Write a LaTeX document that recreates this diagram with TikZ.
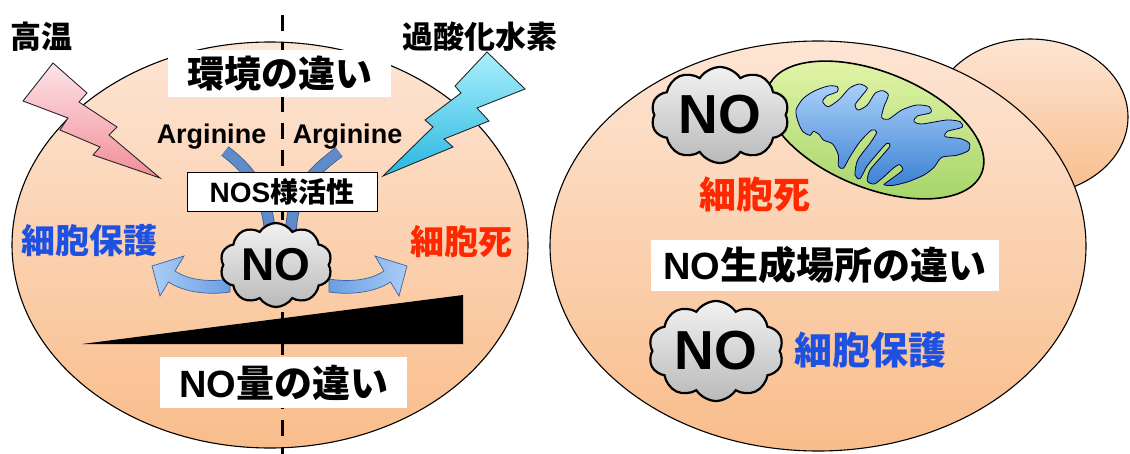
\documentclass[tikz,border=0pt]{standalone}
\usepackage{fontspec}
\setmainfont{Liberation Sans}
\newfontfamily\jp{Noto Sans CJK JP}
\usetikzlibrary{shapes.symbols}
\newcommand{\fsz}[1]{\fontsize{#1}{#1}\selectfont}

\definecolor{cellTop}{RGB}{253,229,212}
\definecolor{cellBot}{RGB}{249,189,139}
\definecolor{txtBlue}{RGB}{30,80,225}
\definecolor{txtRed}{RGB}{255,40,0}
\definecolor{boltPinkT}{RGB}{253,228,231}
\definecolor{boltPinkB}{RGB}{242,140,152}
\definecolor{boltCyanT}{RGB}{170,240,252}
\definecolor{boltCyanB}{RGB}{40,182,224}
\definecolor{arrLight}{RGB}{170,205,245}
\definecolor{arrDark}{RGB}{105,158,226}
\definecolor{arrEdge}{RGB}{60,100,160}
\definecolor{bandFill}{RGB}{95,140,200}
\definecolor{bandEdge}{RGB}{55,90,140}
\definecolor{cloudT}{RGB}{242,242,242}
\definecolor{cloudB}{RGB}{185,185,185}
\definecolor{mitoT}{RGB}{228,246,170}
\definecolor{mitoB}{RGB}{165,212,105}
\definecolor{crisT}{RGB}{170,208,248}
\definecolor{crisB}{RGB}{60,130,212}

\tikzset{
  cell/.style={draw=black, line width=1.1pt, top color=cellTop, bottom color=cellBot},
  bolt/.style={draw=black!85, line width=0.9pt, line join=miter},
  divider/.style={line width=3pt, dash pattern=on 16pt off 11pt},
  band/.style={draw=bandEdge, double=bandFill, double distance=10pt, line width=0.8pt},
  outarrow/.style={draw=arrEdge, line width=0.7pt, line join=miter},
  puff/.style={cloud, cloud puffs=10, cloud puff arc=115, aspect=1.3, draw=black,
    line width=2.2pt, top color=cloudT, bottom color=cloudB, inner sep=0pt},
  notext/.style={font=\bfseries\fsz{#1}},
  jplabel/.style={font=\jp\bfseries\fsz{#1}},
  whitebox/.style={fill=white, inner sep=0pt},
  mito/.style={draw=black, line width=1.6pt, top color=mitoT, bottom color=mitoB},
  cristae/.style={draw=black!75!blue, line width=0.8pt, top color=crisT, bottom color=crisB}
}

\begin{document}
\begin{tikzpicture}[x=1pt,y=-1pt]
\useasboundingbox (0,0) rectangle (1130,453);
\clip (0,0) rectangle (1130,453);

% cells: budding yeast on the right, single cell on the left
\path[cell] (1030,117) ellipse [x radius=98pt, y radius=78pt];
\path[cell] (818,246) ellipse [x radius=268pt, y radius=205pt];
\path[cell] (270,245) ellipse [x radius=258pt, y radius=203pt];

% dividing dashed line
\coordinate (dtop) at (282,15);
\coordinate (dbot) at (282,456);
\draw[divider] (dtop) -- (dbot);

% stress bolts
\path[bolt, top color=boltPinkT, bottom color=boltPinkB]
  (53,63) -- (87,93) -- (79,102) -- (117,127) -- (109,135) -- (160,178)
  -- (93,155) -- (100,147) -- (60,130) -- (68,118) -- (23,101) -- cycle;
\path[bolt, top color=boltCyanT, bottom color=boltCyanB]
  (487,52) -- (525,89) -- (477,108) -- (489,121) -- (444,139) -- (453,147)
  -- (383,176) -- (433,127) -- (425,120) -- (461,93) -- (455,86) -- cycle;

% arginine feeding into NOS-like activity and on to NO
\coordinate (agLs) at (225,151);
\coordinate (agLe) at (270,232);
\coordinate (agRs) at (339,152);
\coordinate (agRe) at (291,232);
\draw[band] (agLs) .. controls (247,168) and (266,188) .. (agLe);
\draw[band] (agRs) .. controls (315,170) and (292,190) .. (agRe);

\node[draw=black, line width=0.9pt, fill=white, inner sep=0pt,
      minimum width=190pt, minimum height=39pt, font=\fsz{28}] (nos) at (282,191.5)
  {\bfseries NOS{\jp\bfseries 様活性}};

% curved arrows out of NO
\path[outarrow, left color=arrLight, right color=arrDark]
  (230,279) .. controls (212,282) and (190,281) .. (175,271) -- (184,256) -- (152,266)
  -- (160,296) -- (168.5,282) .. controls (185,293) and (210,295) .. (230,292) -- cycle;
\path[outarrow, left color=arrDark, right color=arrLight]
  (329,279) .. controls (347,282) and (369,281) .. (384,271) -- (375,256) -- (407,266)
  -- (399,296) -- (390.5,282) .. controls (374,293) and (349,295) .. (329,292) -- cycle;

% NO cloud (left)
\node[puff, minimum width=112pt, minimum height=84pt] (cl1) at (276,265) {};
\node[notext=46] (no1) at (cl1.center) {NO};

% labels, left cell
\node[jplabel=31] (heat) at (41,37) {高温};
\node[jplabel=31] (perox) at (480,37) {過酸化水素};
\node[whitebox, minimum width=223pt, minimum height=47pt, jplabel=37] (env) at (279.5,73.5) {環境の違い};
\node[notext=27, anchor=base] (argL) at (211.5,143) {Arginine};
\node[notext=27, anchor=base] (argR) at (347.5,143) {Arginine};
\node[jplabel=34, text=txtBlue] (protL) at (89,241) {細胞保護};
\node[jplabel=34, text=txtRed] (deathL) at (461,242) {細胞死};

% amount wedge
\fill (82,344) -- (463,344) -- (463,295) -- cycle;
\node[whitebox, minimum width=247pt, minimum height=51pt, font=\fsz{38}] (amt) at (283.5,382.5)
  {\bfseries NO{\jp\bfseries 量の違い}};

% mitochondrion
\path[mito, rotate around={-22:(875,130)}] (875,130) ellipse [x radius=115pt, y radius=58pt];
\begin{scope}[shift={(760,60)}, scale=1/3]
\path[cristae] plot[smooth cycle, tension=0.45] coordinates {
  (108,150) (130,115) (165,92) (205,78) (232,80) (232,95) (200,108) (188,125)
  (205,140) (238,118) (268,85) (298,72) (322,84) (305,108) (285,135) (295,150)
  (322,135) (345,100) (368,92) (385,105) (372,140) (365,172) (385,178) (425,150)
  (470,135) (508,140) (512,158) (472,168) (462,184) (485,192) (560,180) (600,185)
  (606,202) (562,214) (556,230) (602,236) (628,250) (625,272) (590,286) (545,292)
  (522,322) (492,345) (445,365) (400,376) (372,374) (398,354) (428,330) (418,314)
  (398,326) (372,350) (343,372) (322,363) (330,330) (362,292) (390,258) (380,250)
  (346,288) (320,320) (300,356) (285,345) (293,300) (330,250) (350,217) (335,210)
  (300,245) (270,290) (250,325) (235,318) (235,285) (218,252) (190,240) (178,224)
  (160,214) (150,226) (128,214) (114,185)};
\end{scope}

% right cell: NO at mitochondria vs elsewhere
\node[puff, minimum width=138pt, minimum height=96pt] (cl2) at (720,115) {};
\node[notext=55] (no2) at (cl2.center) {NO};
\node[jplabel=37, text=txtRed] (deathR) at (755,194) {細胞死};
\node[whitebox, minimum width=348pt, minimum height=51pt, font=\fsz{38}] (site) at (825,265.5)
  {\bfseries NO{\jp\bfseries 生成場所の違い}};
\node[puff, minimum width=135pt, minimum height=100pt] (cl3) at (716,351) {};
\node[notext=55] (no3) at (cl3.center) {NO};
\node[jplabel=38, text=txtBlue] (protR) at (870,350) {細胞保護};

\end{tikzpicture}
\end{document}
